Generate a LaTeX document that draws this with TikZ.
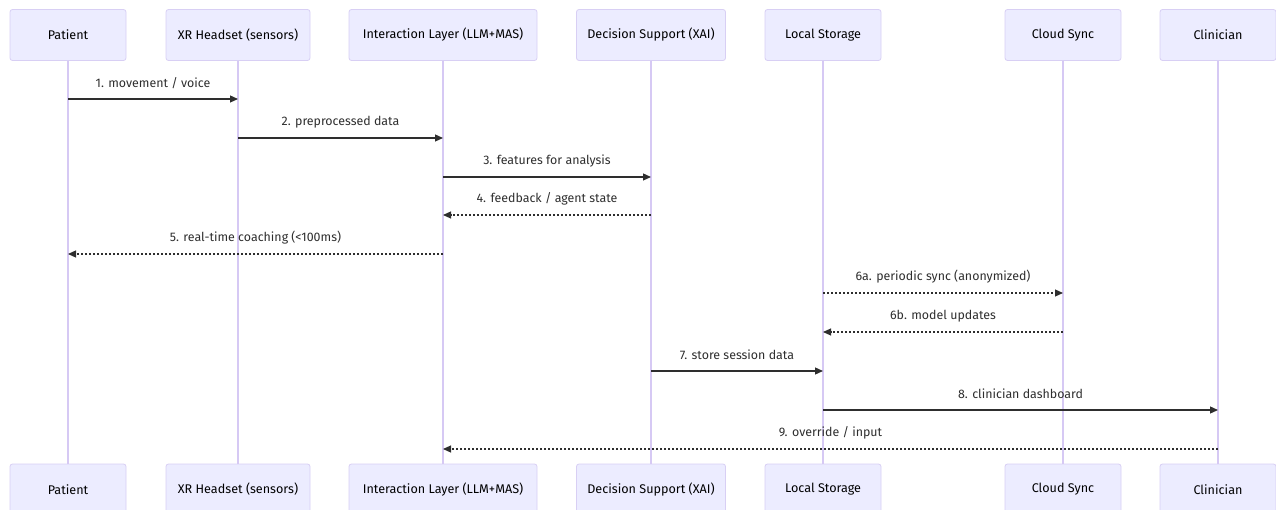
\documentclass[tikz,border=0pt]{standalone}
\usepackage{fontspec}
\setmainfont{Fira Sans}
\usetikzlibrary{arrows.meta}
\definecolor{actorfill}{HTML}{ECECFF}
\definecolor{actorline}{HTML}{D8CFF4}
\definecolor{lifeline}{HTML}{D6C9F4}
\definecolor{msg}{HTML}{2E2E2E}
\begin{document}
\begin{tikzpicture}[x=1pt,y=-1pt,
  actor/.style={draw=actorline, fill=actorfill, line width=0.8pt, rounded corners=2.5pt,
    minimum height=51pt, inner sep=0pt, font=\fontsize{12.6}{14}\selectfont, text=black},
  life/.style={draw=lifeline, line width=1.1pt},
  msgsolid/.style={draw=msg, line width=1.2pt, -{Triangle[length=8pt,width=7pt]}},
  msgdotted/.style={msgsolid, line width=1.1pt, dash pattern=on 2pt off 2pt},
  lbl/.style={midway, yshift=16pt, font=\fontsize{12.4}{14}\selectfont, text=msg, inner sep=0pt}]
\useasboundingbox (0,0) rectangle (1276,510);
\clip (0,0) rectangle (1276,510);

% participants, top row
\node[actor, minimum width=116pt] (pT) at (68,35)   {Patient};
\node[actor, minimum width=144pt] (xT) at (238,35)  {XR Headset (sensors)};
\node[actor, minimum width=188pt] (iT) at (443,35)  {Interaction Layer (LLM+MAS)};
\node[actor, minimum width=149pt] (dT) at (651,35)  {Decision Support (XAI)};
\node[actor, minimum width=116pt] (lT) at (823,35)  {Local Storage};
\node[actor, minimum width=116pt] (cT) at (1063,35) {Cloud Sync};
\node[actor, minimum width=116pt] (kT) at (1218,35) {Clinician};

% participants, bottom row
\node[actor, minimum width=116pt] (pB) at (68,489.5)   {Patient};
\node[actor, minimum width=144pt] (xB) at (238,489.5)  {XR Headset (sensors)};
\node[actor, minimum width=188pt] (iB) at (443,489.5)  {Interaction Layer (LLM+MAS)};
\node[actor, minimum width=149pt] (dB) at (651,489.5)  {Decision Support (XAI)};
\node[actor, minimum width=116pt] (lB) at (823,489.5)  {Local Storage};
\node[actor, minimum width=116pt] (cB) at (1063,489.5) {Cloud Sync};
\node[actor, minimum width=116pt] (kB) at (1218,489.5) {Clinician};

% lifelines
\foreach \n in {p,x,i,d,l,c,k}
  \draw[life] (\n T.south) -- (\n B.north);

% message rows
\coordinate (r1) at (0,99);
\coordinate (r2) at (0,138);
\coordinate (r3) at (0,177);
\coordinate (r4) at (0,215);
\coordinate (r5) at (0,254);
\coordinate (r6) at (0,293);
\coordinate (r7) at (0,332);
\coordinate (r8) at (0,371);
\coordinate (r9) at (0,410);
\coordinate (r10) at (0,449);

% messages
\draw[msgsolid]  (pT |- r1) -- node[lbl] {1. movement / voice} (xT |- r1);
\draw[msgsolid]  (xT |- r2) -- node[lbl] {2. preprocessed data} (iT |- r2);
\draw[msgsolid]  (iT |- r3) -- node[lbl] {3. features for analysis} (dT |- r3);
\draw[msgdotted] (dT |- r4) -- node[lbl] {4. feedback / agent state} (iT |- r4);
\draw[msgdotted] (iT |- r5) -- node[lbl] {5. real-time coaching (<100ms)} (pT |- r5);
\draw[msgdotted] (lT |- r6) -- node[lbl] {6a. periodic sync (anonymized)} (cT |- r6);
\draw[msgdotted] (cT |- r7) -- node[lbl] {6b. model updates} (lT |- r7);
\draw[msgsolid]  (dT |- r8) -- node[lbl] {7. store session data} (lT |- r8);
\draw[msgsolid]  (lT |- r9) -- node[lbl] {8. clinician dashboard} (kT |- r9);
\draw[msgdotted] (kT |- r10) -- node[lbl] {9. override / input} (iT |- r10);
\end{tikzpicture}
\end{document}
